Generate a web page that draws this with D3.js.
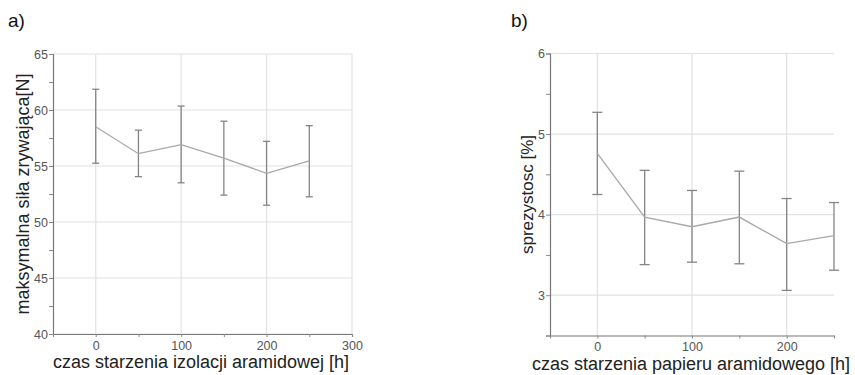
<!DOCTYPE html>
<html>
<head>
<meta charset="utf-8">
<script src="https://cdn.jsdelivr.net/npm/d3@7"></script>
<style>
  body { margin: 0; background: #fff; }
  svg { display: block; font-family: "Liberation Sans", Arial, sans-serif; }
</style>
</head>
<body>
<svg id="chart" width="855" height="375"></svg>
<script>
// ageing time [h]
var hours = [0, 50, 100, 150, 200, 250];

// a) max breaking force [N]
var forceMean = [58.5, 56.1, 56.9, 55.7, 54.35, 55.45];
var forceHigh = [61.85, 58.2, 60.35, 59.0, 57.2, 58.6];
var forceLow  = [55.25, 54.05, 53.5, 52.4, 51.5, 52.25];

// b) elasticity [%]
var elastMean = [4.76, 3.97, 3.85, 3.97, 3.64, 3.74];
var elastHigh = [5.27, 4.55, 4.30, 4.54, 4.20, 4.15];
var elastLow  = [4.25, 3.38, 3.41, 3.39, 3.06, 3.31];

var forceTicks = [40, 45, 50, 55, 60, 65];
var elastTicks = [3, 4, 5, 6];
var xLabelsA = [0, 100, 200, 300];
var xLabelsB = [0, 100, 200];

var svg = d3.select("#chart");

function panel(o) {
  var g = svg.append("g");
  var x = d3.scaleLinear().domain(o.xDomain).range([o.left, o.right]);
  var y = d3.scaleLinear().domain(o.yDomain).range([o.bottom, o.top]);

  // grid
  g.selectAll(".hg").data(o.yLabels).enter().append("line")
    .attr("x1", o.left).attr("x2", o.right)
    .attr("y1", function(d) { return y(d); }).attr("y2", function(d) { return y(d); })
    .attr("stroke", "#e2e2e2").attr("stroke-width", 1.2);
  g.selectAll(".vg").data(o.xLabels).enter().append("line")
    .attr("x1", function(d) { return x(d); }).attr("x2", function(d) { return x(d); })
    .attr("y1", o.top).attr("y2", o.bottom)
    .attr("stroke", "#e2e2e2").attr("stroke-width", 1.2);

  // axes
  var yMinor = d3.range(o.yDomain[0], o.yDomain[1] + 1e-9, o.yStep / 2);
  var yAxis = d3.axisLeft(y).tickValues(yMinor).tickSize(4)
    .tickFormat(function(d) { return o.yLabels.indexOf(d) >= 0 ? d : ""; });
  var ya = g.append("g").attr("transform", "translate(" + o.left + ",0)").call(yAxis);

  var xMinor = d3.range(o.xDomain[0], o.xDomain[1] + 1e-9, 50);
  var xAxis = d3.axisBottom(x).tickValues(xMinor).tickSize(3).tickSizeOuter(0)
    .tickFormat(function(d) { return o.xLabels.indexOf(d) >= 0 ? d : ""; });
  var xa = g.append("g").attr("transform", "translate(0," + o.bottom + ")").call(xAxis);

  [ya, xa].forEach(function(a) {
    a.select(".domain").attr("stroke", "#777").attr("stroke-width", 1.2);
    a.selectAll(".tick line").attr("stroke", "#888");
    a.selectAll(".tick text").attr("fill", "#555").style("font-size", "12.5px");
  });
  ya.selectAll(".tick text").attr("x", -5);
  xa.selectAll(".tick text").attr("y", 7);

  // error bars
  var cap = o.cap;
  var eb = g.selectAll(".eb").data(hours).enter().append("g");
  eb.append("line")
    .attr("x1", function(d) { return x(d); }).attr("x2", function(d) { return x(d); })
    .attr("y1", function(d, i) { return y(o.high[i]); })
    .attr("y2", function(d, i) { return y(o.low[i]); });
  eb.append("line")
    .attr("x1", function(d) { return x(d) - cap; }).attr("x2", function(d) { return x(d) + cap; })
    .attr("y1", function(d, i) { return y(o.high[i]); })
    .attr("y2", function(d, i) { return y(o.high[i]); });
  eb.append("line")
    .attr("x1", function(d) { return x(d) - cap; }).attr("x2", function(d) { return x(d) + cap; })
    .attr("y1", function(d, i) { return y(o.low[i]); })
    .attr("y2", function(d, i) { return y(o.low[i]); });
  eb.selectAll("line").attr("stroke", "#858585").attr("stroke-width", 1.3);

  // mean line
  var line = d3.line()
    .x(function(d) { return x(d); })
    .y(function(d, i) { return y(o.mean[i]); });
  g.append("path")
    .attr("d", line(hours))
    .attr("fill", "none")
    .attr("stroke", "#a8a8a8")
    .attr("stroke-width", 1.3);

  // titles
  g.append("text").attr("x", o.tagX).attr("y", 27)
    .style("font-size", "19px").attr("fill", "#111").text(o.tag);
  g.append("text")
    .attr("transform", "translate(" + o.yTitleX + "," + ((o.top + o.bottom) / 2) + ") rotate(-90)")
    .attr("text-anchor", "middle").style("font-size", o.yTitleSize).attr("fill", "#222")
    .text(o.yTitle);
  g.append("text").attr("x", o.xTitleX).attr("y", o.bottom + 34)
    .attr("text-anchor", "middle").style("font-size", "18px").attr("fill", "#222")
    .text(o.xTitle);
}

panel({
  left: 53, right: 352, top: 54, bottom: 334,
  xDomain: [-50, 300], yDomain: [40, 65], yStep: 5,
  xLabels: xLabelsA, yLabels: forceTicks,
  mean: forceMean, high: forceHigh, low: forceLow, cap: 3.5,
  tag: "a)", tagX: 8,
  yTitle: "maksymalna siła zrywająca[N]", yTitleX: 29, yTitleSize: "18px",
  xTitle: "czas starzenia izolacji aramidowej [h]", xTitleX: 201
});

panel({
  left: 550, right: 834, top: 53.5, bottom: 335.5,
  xDomain: [-50, 250], yDomain: [2.5, 6], yStep: 1,
  xLabels: xLabelsB, yLabels: elastTicks,
  mean: elastMean, high: elastHigh, low: elastLow, cap: 5,
  tag: "b)", tagX: 511,
  yTitle: "sprezystosc [%]", yTitleX: 533, yTitleSize: "17px",
  xTitle: "czas starzenia papieru aramidowego [h]", xTitleX: 691
});
</script>
</body>
</html>
